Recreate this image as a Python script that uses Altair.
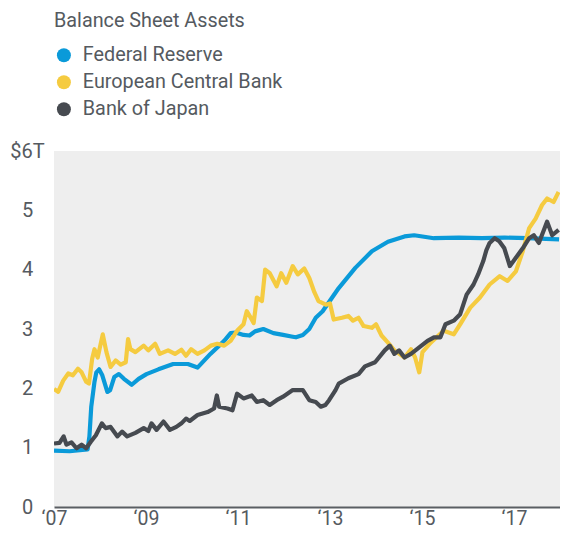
import altair as alt
import pandas as pd

series_names = ["Federal Reserve", "European Central Bank", "Bank of Japan"]
series_colors = ["#0a9ad9", "#f5cb40", "#464a50"]

fed_t = [2007.00, 2007.34, 2007.73, 2007.77, 2007.81, 2007.88, 2007.92, 2007.98, 2008.05, 2008.16,
         2008.22, 2008.31, 2008.41, 2008.52, 2008.69, 2008.84, 2009.01, 2009.27, 2009.59, 2009.91,
         2010.12, 2010.40, 2010.70, 2010.84, 2010.95, 2011.12, 2011.25, 2011.37, 2011.55, 2011.77,
         2011.98, 2012.19, 2012.26, 2012.41, 2012.55, 2012.69, 2012.84, 2013.19, 2013.55, 2013.91,
         2014.26, 2014.62, 2014.83, 2015.26, 2015.80, 2016.30, 2016.80, 2017.30, 2017.70, 2017.98]
fed_v = [0.95, 0.94, 0.97, 1.19, 1.69, 2.11, 2.27, 2.32, 2.22, 1.94,
         1.97, 2.19, 2.24, 2.16, 2.06, 2.16, 2.24, 2.32, 2.41, 2.41,
         2.35, 2.58, 2.80, 2.93, 2.94, 2.90, 2.89, 2.96, 3.00, 2.93,
         2.90, 2.87, 2.86, 2.90, 3.00, 3.19, 3.30, 3.69, 4.03, 4.31,
         4.47, 4.56, 4.58, 4.53, 4.54, 4.53, 4.54, 4.53, 4.52, 4.51]

ecb_t = [2007.00, 2007.09, 2007.20, 2007.31, 2007.41, 2007.52, 2007.60, 2007.70, 2007.76, 2007.83,
         2007.88, 2007.95, 2008.06, 2008.14, 2008.23, 2008.34, 2008.45, 2008.56, 2008.61, 2008.66,
         2008.77, 2008.95, 2009.05, 2009.20, 2009.30, 2009.48, 2009.63, 2009.77, 2009.87, 2009.98,
         2010.12, 2010.27, 2010.41, 2010.55, 2010.70, 2010.84, 2010.98, 2011.12, 2011.19, 2011.27,
         2011.34, 2011.41, 2011.52, 2011.59, 2011.69, 2011.84, 2011.94, 2012.05, 2012.19, 2012.30,
         2012.44, 2012.55, 2012.66, 2012.75, 2012.91, 2013.00, 2013.08, 2013.26, 2013.40, 2013.50,
         2013.62, 2013.73, 2013.91, 2014.00, 2014.12, 2014.26, 2014.40, 2014.62, 2014.76, 2014.85,
         2014.94, 2015.01, 2015.19, 2015.47, 2015.69, 2015.83, 2016.05, 2016.26, 2016.47, 2016.69,
         2016.86, 2017.04, 2017.19, 2017.33, 2017.47, 2017.61, 2017.72, 2017.86, 2017.97]
ecb_v = [1.99, 1.94, 2.13, 2.25, 2.22, 2.33, 2.27, 2.11, 2.08, 2.50,
         2.66, 2.52, 2.91, 2.61, 2.36, 2.47, 2.40, 2.44, 2.83, 2.66,
         2.61, 2.72, 2.64, 2.75, 2.58, 2.64, 2.58, 2.65, 2.55, 2.66,
         2.58, 2.64, 2.72, 2.75, 2.72, 2.80, 2.97, 3.08, 3.30, 3.20,
         3.10, 3.53, 3.47, 4.00, 3.94, 3.72, 3.94, 3.78, 4.06, 3.92,
         4.02, 3.86, 3.62, 3.47, 3.41, 3.43, 3.16, 3.19, 3.22, 3.14,
         3.19, 3.05, 3.02, 3.08, 2.89, 2.77, 2.64, 2.52, 2.66, 2.52,
         2.27, 2.61, 2.77, 2.97, 2.91, 3.08, 3.36, 3.53, 3.75, 3.89,
         3.81, 3.97, 4.31, 4.70, 4.86, 5.09, 5.20, 5.14, 5.31]

boj_t = [2007.00, 2007.12, 2007.21, 2007.27, 2007.38, 2007.49, 2007.60, 2007.70, 2007.80, 2007.91,
         2008.04, 2008.12, 2008.23, 2008.38, 2008.48, 2008.59, 2008.77, 2008.95, 2009.05, 2009.12,
         2009.23, 2009.38, 2009.52, 2009.66, 2009.77, 2009.87, 2009.95, 2010.12, 2010.34, 2010.48,
         2010.54, 2010.59, 2010.77, 2010.88, 2010.98, 2011.12, 2011.30, 2011.41, 2011.55, 2011.69,
         2011.84, 2011.98, 2012.19, 2012.41, 2012.55, 2012.69, 2012.80, 2012.90, 2012.98, 2013.12,
         2013.19, 2013.40, 2013.62, 2013.76, 2013.98, 2014.19, 2014.30, 2014.40, 2014.50, 2014.62,
         2014.76, 2014.94, 2015.12, 2015.26, 2015.40, 2015.51, 2015.69, 2015.83, 2015.97, 2016.12,
         2016.22, 2016.33, 2016.40, 2016.47, 2016.58, 2016.68, 2016.79, 2016.91, 2017.04, 2017.19,
         2017.33, 2017.43, 2017.54, 2017.65, 2017.72, 2017.83, 2017.97]
boj_v = [1.07, 1.08, 1.19, 1.05, 1.09, 0.99, 1.05, 0.99, 1.10, 1.21,
         1.41, 1.33, 1.35, 1.19, 1.27, 1.19, 1.25, 1.33, 1.28, 1.41,
         1.30, 1.44, 1.30, 1.35, 1.41, 1.49, 1.45, 1.55, 1.60, 1.66,
         1.88, 1.69, 1.66, 1.63, 1.91, 1.83, 1.88, 1.77, 1.80, 1.72,
         1.80, 1.86, 1.97, 1.97, 1.80, 1.77, 1.69, 1.72, 1.80, 1.97,
         2.08, 2.17, 2.24, 2.37, 2.44, 2.64, 2.72, 2.58, 2.64, 2.52,
         2.58, 2.69, 2.80, 2.86, 2.86, 3.08, 3.14, 3.25, 3.58, 3.75,
         3.92, 4.14, 4.33, 4.45, 4.53, 4.48, 4.36, 4.06, 4.20, 4.36,
         4.53, 4.58, 4.45, 4.67, 4.81, 4.58, 4.67]

year_ticks = [2007, 2009, 2011, 2013, 2015, 2017]
value_ticks = [0, 1, 2, 3, 4, 5, 6]

rows = []
for name, ts, vs in zip(series_names, [fed_t, ecb_t, boj_t], [fed_v, ecb_v, boj_v]):
    for t, v in zip(ts, vs):
        rows.append({"bank": name, "year": t, "assets": v})
df = pd.DataFrame(rows)

text_color = "#555a60"
font = "Roboto"

x_enc = alt.X("year:Q", scale=alt.Scale(domain=[2007, 2018], nice=False, zero=False),
              axis=alt.Axis(values=year_ticks, title=None, grid=False, ticks=False,
                            labelExpr="'\u2018' + substring(toString(datum.value), 2)",
                            labelFlush=False, labelPadding=2, labelFontSize=19.5,
                            labelColor=text_color, labelFont=font,
                            domainColor="#5a5e63", domainWidth=2))
y_enc = alt.Y("assets:Q", scale=alt.Scale(domain=[0, 6], nice=False),
              axis=alt.Axis(values=value_ticks, title=None, grid=False, ticks=False, tickSize=0,
                            domain=False, labelAlign="center", labelBaseline="middle",
                            labelExpr="datum.value == 6 ? '$6T' : toString(datum.value)",
                            labelFlush=False, labelPadding=27, labelFontSize=20,
                            labelColor=text_color, labelFont=font))
color_scale = alt.Scale(domain=series_names, range=series_colors)

base = alt.Chart(df)

lines = base.mark_line(strokeWidth=4.2, clip=True, strokeJoin="round").encode(
    x=x_enc, y=y_enc,
    color=alt.Color("bank:N", scale=color_scale, legend=None),
)

legend_dots = base.transform_filter("datum.year < 0").mark_point(
    filled=True, opacity=1, clip=True
).encode(
    x=x_enc, y=y_enc,
    color=alt.Color("bank:N", scale=color_scale,
                    legend=alt.Legend(title="Balance Sheet Assets", orient="none",
                                      legendX=0, legendY=-140.5, padding=0,
                                      symbolType="circle", symbolSize=195,
                                      symbolStrokeWidth=0, symbolOpacity=1,
                                      titleFontSize=19.8, titleFontWeight="normal",
                                      titleColor=text_color, titleFont=font,
                                      titleLimit=400, labelLimit=400,
                                      titlePadding=15, rowPadding=6, labelOffset=9,
                                      labelFontSize=19.8, labelColor=text_color,
                                      labelFont=font)),
)

chart = alt.layer(legend_dots, lines).properties(
    width=506,
    height=356,
    autosize=alt.AutoSizeParams(type="none"),
    padding={"left": 46, "top": 143, "right": 0, "bottom": 21},
).configure(
    font=font,
    view=alt.ViewConfig(fill="#eeeeee", strokeWidth=0),
)

chart.save("out.html", embed_options={"renderer": "svg", "actions": False})
